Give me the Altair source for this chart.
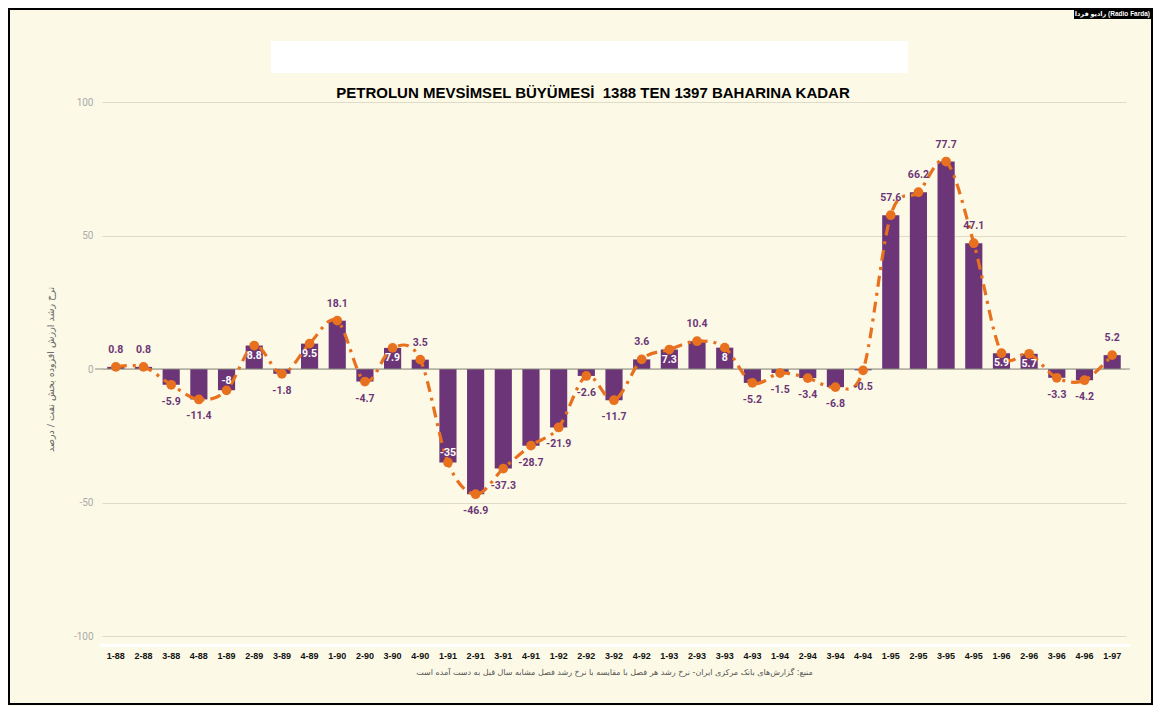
import altair as alt
import pandas as pd

QUARTERS = ["1-88", "2-88", "3-88", "4-88", "1-89", "2-89", "3-89", "4-89",
            "1-90", "2-90", "3-90", "4-90", "1-91", "2-91", "3-91", "4-91",
            "1-92", "2-92", "3-92", "4-92", "1-93", "2-93", "3-93", "4-93",
            "1-94", "2-94", "3-94", "4-94", "1-95", "2-95", "3-95", "4-95",
            "1-96", "2-96", "3-96", "4-96", "1-97"]
GROWTH = [0.8, 0.8, -5.9, -11.4, -8, 8.8, -1.8, 9.5,
          18.1, -4.7, 7.9, 3.5, -35, -46.9, -37.3, -28.7,
          -21.9, -2.6, -11.7, 3.6, 7.3, 10.4, 8, -5.2,
          -1.5, -3.4, -6.8, -0.5, 57.6, 66.2, 77.7, 47.1,
          5.9, 5.7, -3.3, -4.2, 5.2]
# labels drawn inside the bar (white)
INSIDE = ["1-89", "2-89", "4-89", "3-90", "1-91", "1-93", "3-93", "1-96", "2-96"]
Y_TICKS = [-100, -50, 0, 50, 100]

TITLE = "PETROLUN MEVSİMSEL BÜYÜMESİ\u00a0 1388 TEN 1397 BAHARINA KADAR"
Y_TITLE = "نرخ رشد ارزش افزوده بخش نفت / درصد"
X_TITLE = "منبع: گزارش‌های بانک مرکزی ایران- نرخ رشد هر فصل با مقایسه با نرخ رشد فصل مشابه سال قبل به دست آمده است"
BADGE = "رادیو فردا (Radio Farda)"

PURPLE = "#6b3577"
ORANGE = "#e8711f"
BG = "#fcfae6"

df = pd.DataFrame({"q": QUARTERS, "v": GROWTH})
df["label"] = [f"{v:g}" for v in GROWTH]
df["inside"] = df["q"].isin(INSIDE)

base = alt.Chart(df)

x = alt.X("q:N", sort=QUARTERS,
          scale=alt.Scale(paddingInner=0.38, paddingOuter=0.19),
          axis=alt.Axis(title=X_TITLE, labelAngle=0, labelFont="Liberation Sans",
                        labelFontSize=9, labelFontWeight="bold", labelColor="#111",
                        labelPadding=15, ticks=False, tickSize=0, domain=False,
                        titleFont="DejaVu Sans", titleFontSize=8, titleFontWeight="normal",
                        titleColor="#555", titlePadding=8))
y = alt.Y("v:Q", scale=alt.Scale(domain=[-100, 100], nice=False, zero=False),
          axis=alt.Axis(values=Y_TICKS, labelExpr="'' + datum.value", title=Y_TITLE,
                        labelColor="#aaa", labelFont="Roboto", labelFontSize=10,
                        labelPadding=9, ticks=False, tickSize=0, domain=False,
                        gridColor="#dedcc8", gridWidth=1,
                        titleFont="DejaVu Sans", titleFontSize=9.5, titleFontWeight="normal",
                        titleColor="#666", titleX=-52, titleY=267, titleAngle=-90,
                        titleAlign="center", titleBaseline="middle"))

bars = base.mark_bar(color=PURPLE).encode(x=x, y=y)

zero = alt.Chart(alt.Data(values=[{"z": 0}])).mark_rule(color="#8a8a80", strokeWidth=1).encode(
    y=alt.Y("z:Q"), x=alt.value(-7), x2=alt.value(1028))

line = base.mark_line(color=ORANGE, strokeWidth=3.2, strokeDash=[11, 6, 3, 6],
                      interpolate="cardinal").encode(x=x, y=y)
points = base.mark_circle(color=ORANGE, size=95, opacity=1).encode(x=x, y=y)

lab_style = dict(font="Roboto", fontSize=10.5, fontWeight="bold", baseline="middle", align="center")
out_pos = base.transform_filter("!datum.inside && datum.v >= 0").mark_text(
    color=PURPLE, dy=-17, **lab_style).encode(x=x, y=y, text="label:N")
out_neg = base.transform_filter("!datum.inside && datum.v < 0").mark_text(
    color=PURPLE, dy=17, **lab_style).encode(x=x, y=y, text="label:N")
in_pos = base.transform_filter("datum.inside && datum.v >= 0").mark_text(
    color="white", dy=10, **lab_style).encode(x=x, y=y, text="label:N")
in_neg = base.transform_filter("datum.inside && datum.v < 0").mark_text(
    color="white", dy=-9, **lab_style).encode(x=x, y=y, text="label:N")

one = alt.Data(values=[{"a": 1}])
white_box = alt.Chart(one).mark_rect(color="white").encode(
    x=alt.value(169), x2=alt.value(806), y=alt.value(-61), y2=alt.value(-29))
title = alt.Chart(one).mark_text(font="Liberation Sans", fontSize=15, fontWeight="bold",
                                 color="#000", align="center", baseline="alphabetic").encode(
    x=alt.value(491), y=alt.value(-4), text=alt.value(TITLE))
white_strip = alt.Chart(one).mark_rect(color="white").encode(
    x=alt.value(-2), x2=alt.value(1028), y=alt.value(542), y2=alt.value(545))
border = alt.Chart(one).mark_rect(fill=None, stroke="black", strokeWidth=2).encode(
    x=alt.value(-93), x2=alt.value(1050), y=alt.value(-93), y2=alt.value(602))
badge_bg = alt.Chart(one).mark_rect(color="black").encode(
    x=alt.value(972), x2=alt.value(1051), y=alt.value(-94), y2=alt.value(-83))
badge_txt = alt.Chart(one).mark_text(color="white", font="Liberation Sans, DejaVu Sans",
                                     fontSize=6.5, fontWeight="bold", align="right",
                                     baseline="middle").encode(
    x=alt.value(1048), y=alt.value(-88.5), text=alt.value(BADGE))

chart = alt.layer(
    white_box, title, white_strip, border, badge_bg, badge_txt,
    bars, zero, line, points, out_pos, out_neg, in_pos, in_neg
).properties(
    width=1024, height=534,
    background=BG,
    padding={"left": 94, "top": 94, "right": 27, "bottom": 70},
    autosize=alt.AutoSizeParams(type="none"),
).configure_view(stroke=None)

chart.save("out.html", embed_options={"renderer": "svg", "actions": False})
